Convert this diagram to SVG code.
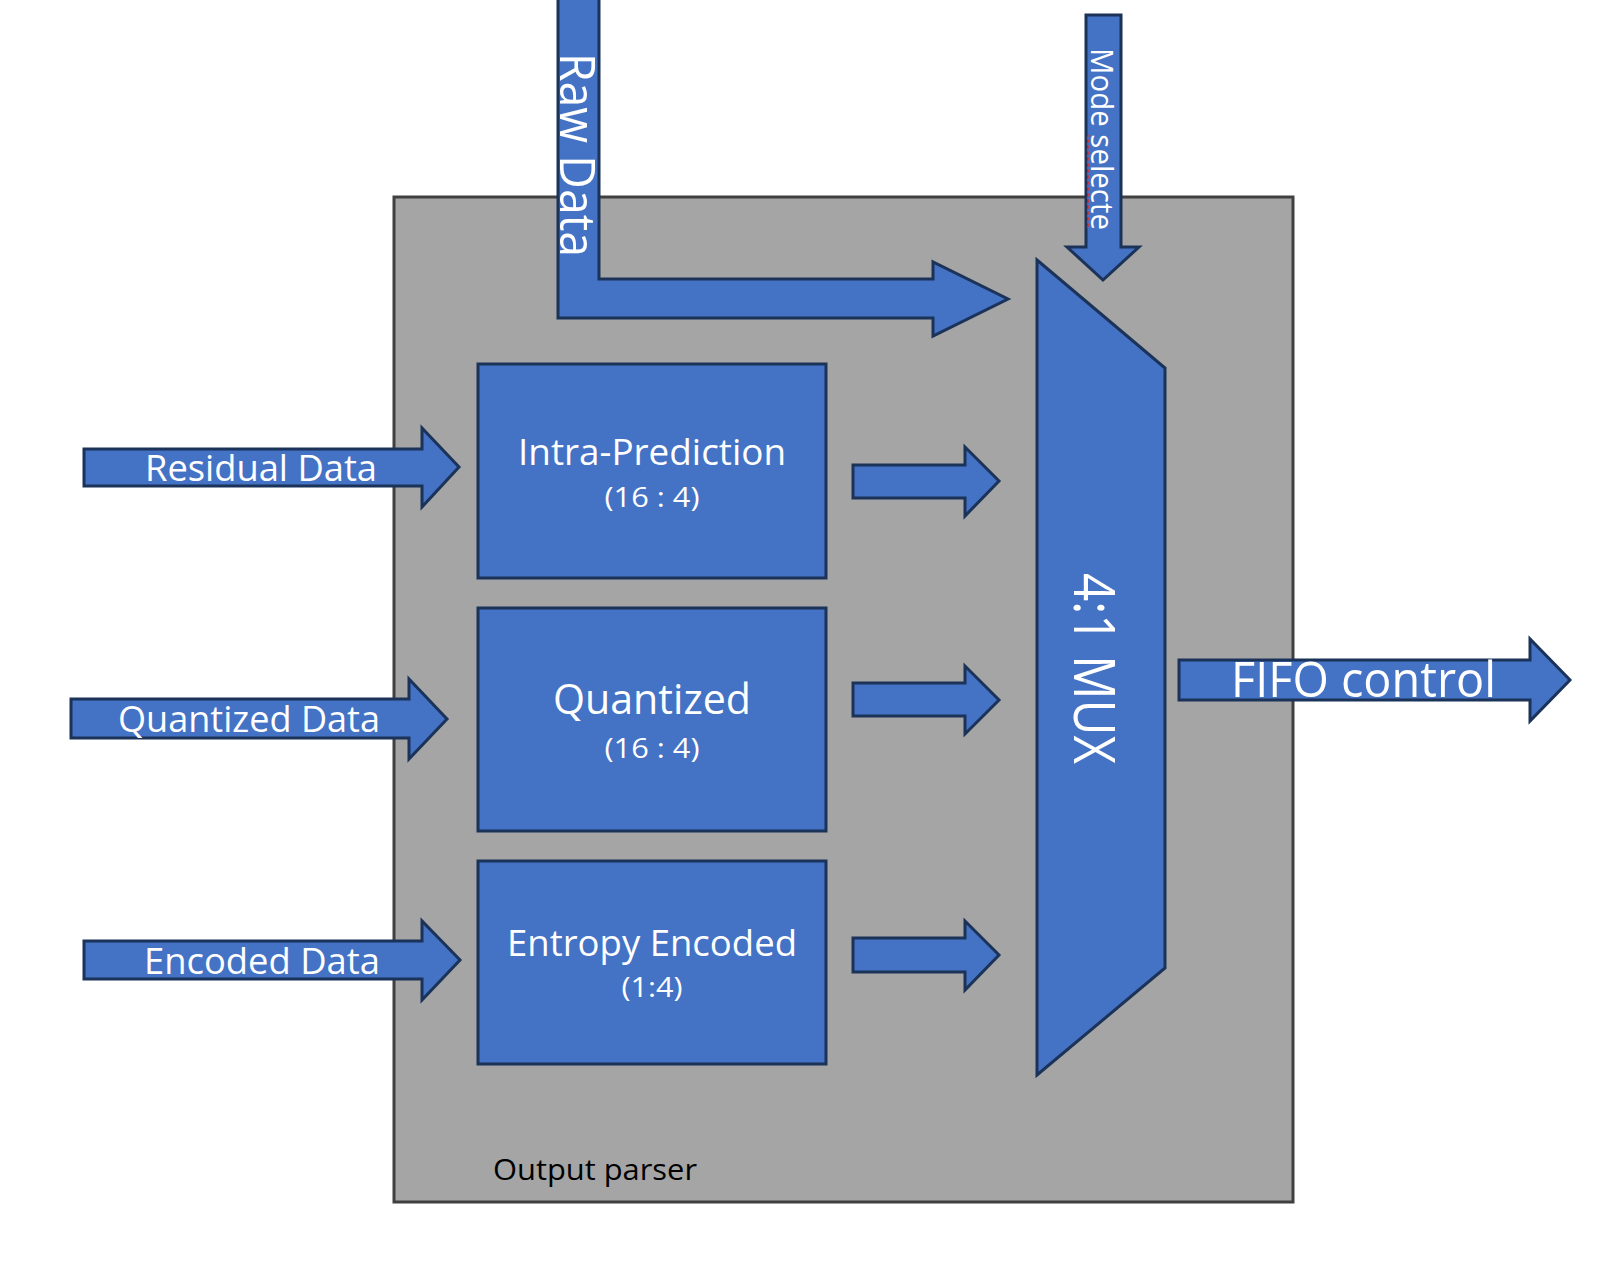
<svg xmlns="http://www.w3.org/2000/svg" width="1618" height="1275" viewBox="0 0 1618 1275">
<style>
.blk{fill:#4472C4;stroke:#1B3259;stroke-width:3;stroke-linejoin:miter}
.w{fill:#FFFFFF;font-family:"Open Sans","Noto Sans","Liberation Sans",sans-serif}
.k{fill:#000000;font-family:"Open Sans","Noto Sans","Liberation Sans",sans-serif}
.c{text-anchor:middle}
</style>
<rect width="1618" height="1275" fill="#FFFFFF"/>
<g id="output-parser">
<rect x="394" y="197" width="899" height="1005" fill="#A5A5A5" stroke="#404040" stroke-width="3"/>
<text class="k" x="493" y="1180" font-size="30" textLength="204" lengthAdjust="spacingAndGlyphs">Output parser</text>
</g>
<g id="connectors">
<g id="raw-data">
<path class="blk" d="M558,-5 L599,-5 L599,279 L933,279 L933,262 L1008,299 L933,336 L933,318 L558,318 Z"/>
<text class="w" transform="translate(560,53) rotate(90)" font-size="50" textLength="204" lengthAdjust="spacingAndGlyphs">Raw Data</text>
</g>
<g id="mode-select">
<path class="blk" d="M1086,15 L1121,15 L1121,247 L1139,247 L1103,280 L1067,247 L1086,247 Z"/>
<text class="w" transform="translate(1091,48) rotate(90)" font-size="31" textLength="182" lengthAdjust="spacingAndGlyphs">Mode selecte</text>
<path d="M1089,135 l-2,3 l2,3 l-2,3 l2,3 l-2,3 l2,3 l-2,3 l2,3 l-2,3 l2,3 l-2,3 l2,3 l-2,3 l2,3 l-2,3 l2,3 l-2,3 l2,3 l-2,3 l2,3 l-2,3 l2,3 l-2,3 l2,3 l-2,3 l2,3 l-2,3 l2,3 l-2,3 l2,3 l-2,3" fill="none" stroke="#E03030" stroke-width="1"/>
</g>
<g id="residual-in">
<path class="blk" d="M84,449 L422,449 L422,428 L459,467 L422,507 L422,486 L84,486 Z"/>
<text class="w" x="145" y="481" font-size="36" textLength="232" lengthAdjust="spacingAndGlyphs">Residual Data</text>
</g>
<g id="quantized-in">
<path class="blk" d="M71,699 L409,699 L409,679 L447,719 L409,759 L409,738 L71,738 Z"/>
<text class="w" x="118" y="732" font-size="36" textLength="262" lengthAdjust="spacingAndGlyphs">Quantized Data</text>
</g>
<g id="encoded-in">
<path class="blk" d="M84,941 L422,941 L422,921 L460,960 L422,1000 L422,979 L84,979 Z"/>
<text class="w" x="144" y="974" font-size="36" textLength="236" lengthAdjust="spacingAndGlyphs">Encoded Data</text>
</g>
<path class="blk" d="M853,465 L965,465 L965,447 L999,481 L965,516 L965,498 L853,498 Z"/>
<path class="blk" d="M853,683 L965,683 L965,666 L999,700 L965,734 L965,716 L853,716 Z"/>
<path class="blk" d="M853,938 L965,938 L965,921 L999,955 L965,990 L965,972 L853,972 Z"/>
<g id="fifo-out">
<path class="blk" d="M1179,660 L1530,660 L1530,639 L1570,680 L1530,721 L1530,700 L1179,700 Z"/>
<text class="w" x="1231" y="697" font-size="50" textLength="265" lengthAdjust="spacingAndGlyphs">FIFO control</text>
</g>
</g>
<g id="intra-prediction">
<rect class="blk" x="478" y="364" width="348" height="214"/>
<text class="w c" x="652" y="465" font-size="36" textLength="268" lengthAdjust="spacingAndGlyphs">Intra-Prediction</text>
<text class="w c" x="652" y="507" font-size="27" textLength="95" lengthAdjust="spacingAndGlyphs">(16 : 4)</text>
</g>
<g id="quantized">
<rect class="blk" x="478" y="608" width="348" height="223"/>
<text class="w c" x="652" y="714" font-size="42" textLength="198" lengthAdjust="spacingAndGlyphs">Quantized</text>
<text class="w c" x="652" y="758" font-size="27" textLength="95" lengthAdjust="spacingAndGlyphs">(16 : 4)</text>
</g>
<g id="entropy-encoded">
<rect class="blk" x="478" y="861" width="348" height="203"/>
<text class="w c" x="652" y="956" font-size="37" textLength="290" lengthAdjust="spacingAndGlyphs">Entropy Encoded</text>
<text class="w c" x="652" y="997" font-size="27" textLength="61" lengthAdjust="spacingAndGlyphs">(1:4)</text>
</g>
<g id="mux">
<path class="blk" d="M1037,260 L1165,368 L1165,968 L1037,1075 Z"/>
<text class="w" transform="translate(1074,573) rotate(90)" font-size="56" textLength="191" lengthAdjust="spacingAndGlyphs">4:1 MUX</text>
</g>
</svg>
